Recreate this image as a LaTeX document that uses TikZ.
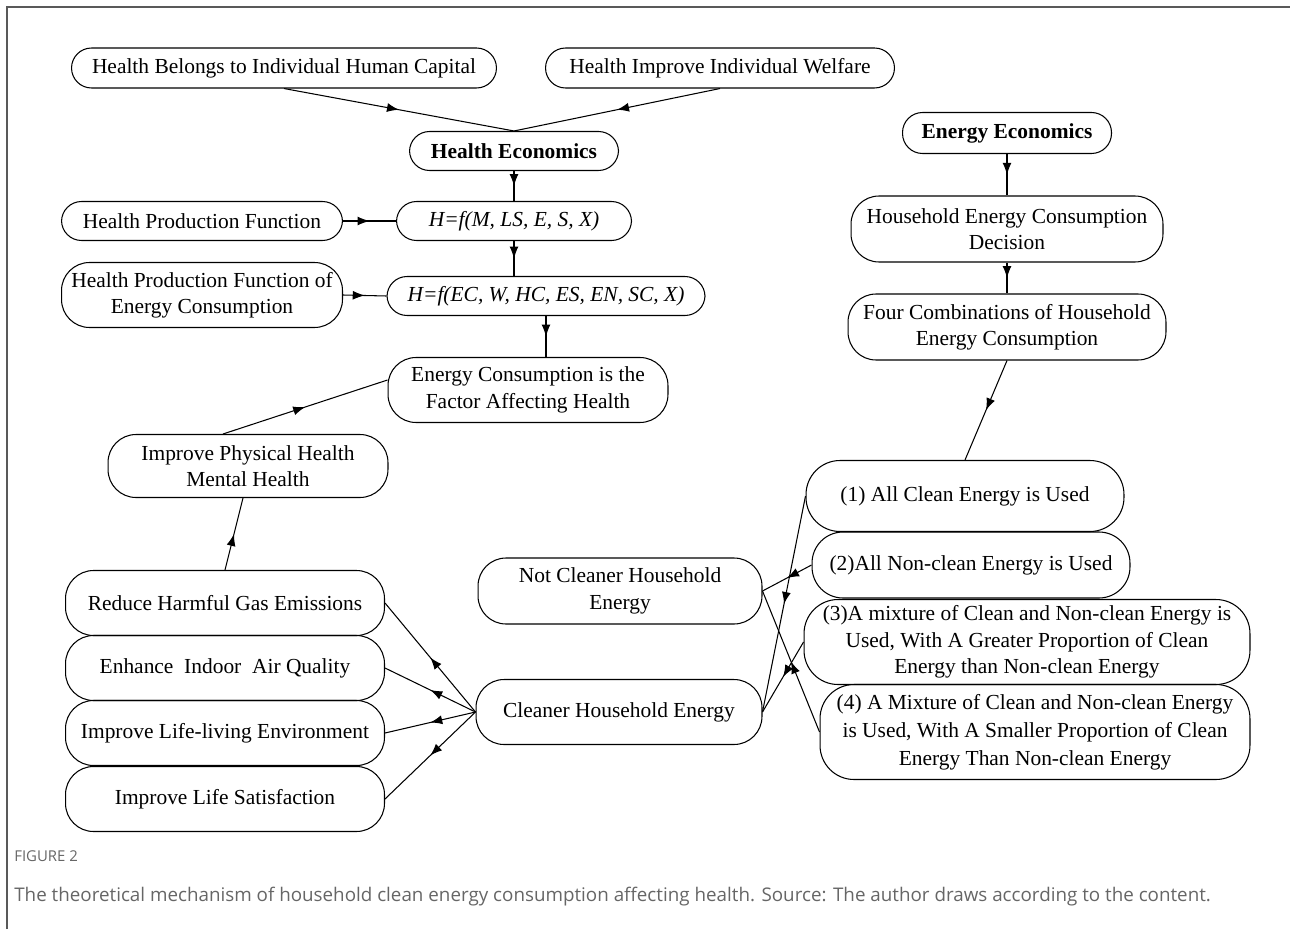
\documentclass[tikz,border=0pt]{standalone}
\usepackage{fontspec}
\setmainfont{Liberation Serif}
\newfontfamily\capfont{Open Sans}
\usepackage{tikz}
\usetikzlibrary{arrows.meta, calc, decorations.markings}

\tikzset{
  stadium/.style={draw, line width=0.6pt, rounded corners=0.4cm, align=center, inner sep=1pt,
    font=\fontsize{12.2}{15}\selectfont},
  tallstadium/.style={stadium, rounded corners=0.56cm},
  bigstadium/.style={stadium, rounded corners=0.68cm},
  midarrow/.style={line width=0.6pt, postaction={decorate},
    decoration={markings, mark=at position 0.5 with {\arrow{Latex[length=2.4mm,width=1.8mm]}}}},
}

\begin{document}
\begin{tikzpicture}[x=0.02cm, y=-0.02cm]
  \useasboundingbox (0,0) rectangle (1290,929);
  % frame
  \draw[black!65, line width=1.1pt] (7,929) -- (7,7) -- (1290,7);

  % health economics column
  \node[stadium, minimum width=8.5cm, minimum height=0.8cm] (HB) at (284,68) {Health Belongs to Individual Human Capital};
  \node[stadium, minimum width=6.98cm, minimum height=0.8cm] (HI) at (720,68) {Health Improve Individual Welfare};
  \node[stadium, minimum width=4.18cm, minimum height=0.78cm, font=\fontsize{12.2}{15}\selectfont\bfseries] (HE) at (514,151) {Health Economics};
  \node[stadium, minimum width=5.62cm, minimum height=0.78cm] (HPF) at (202,221) {Health Production Function};
  \node[stadium, minimum width=4.7cm, minimum height=0.78cm] (F1) at (514,221) {\textit{H=f(M, LS, E, S, X)}};
  \node[tallstadium, minimum width=5.62cm, minimum height=1.3cm] (HPFE) at (202,295) {Health Production Function of\\Energy Consumption};
  \node[stadium, minimum width=6.36cm, minimum height=0.78cm] (F2) at (546,296) {\textit{H=f(EC, W, HC, ES, EN, SC, X)}};
  \node[tallstadium, minimum width=5.6cm, minimum height=1.3cm] (ECF) at (528,390) {Energy Consumption is the\\Factor Affecting Health};
  \node[tallstadium, minimum width=5.6cm, minimum height=1.26cm] (IPH) at (248,466) {Improve Physical Health\\Mental Health};

  % effects of clean energy
  \node[tallstadium, minimum width=6.38cm, minimum height=1.3cm] (RHG) at (225,603) {Reduce Harmful Gas Emissions};
  \node[tallstadium, minimum width=6.38cm, minimum height=1.3cm] (EIA) at (225,668) {Enhance\ \ Indoor\ \ Air Quality};
  \node[tallstadium, minimum width=6.38cm, minimum height=1.3cm] (ILE) at (225,733) {Improve Life-living Environment};
  \node[tallstadium, minimum width=6.38cm, minimum height=1.3cm] (ILS) at (225,799) {Improve Life Satisfaction};
  \node[tallstadium, minimum width=5.68cm, minimum height=1.32cm] (NC) at (620,591) {Not Cleaner Household\\Energy};
  \node[tallstadium, minimum width=5.72cm, minimum height=1.3cm] (CHE) at (619,712) {Cleaner Household Energy};

  % energy economics column
  \node[stadium, minimum width=4.18cm, minimum height=0.82cm, font=\fontsize{12.2}{15}\selectfont\bfseries] (EE) at (1007,133) {Energy Economics};
  \node[tallstadium, minimum width=6.24cm, minimum height=1.32cm] (HEC) at (1007,229) {Household Energy Consumption\\Decision};
  \node[tallstadium, minimum width=6.36cm, minimum height=1.32cm] (FC) at (1007,327) {Four Combinations of Household\\Energy Consumption};

  % four combinations
  \node[bigstadium, minimum width=6.36cm, minimum height=1.42cm] (C1) at (965,496) {(1) All Clean Energy is Used};
  \node[bigstadium, minimum width=6.36cm, minimum height=1.32cm, rounded corners=0.62cm] (C2) at (971,565) {(2)All Non-clean Energy is Used};
  \node[bigstadium, minimum width=8.92cm, minimum height=1.7cm] (C3) at (1027,642) {(3)A mixture of Clean and Non-clean Energy is\\Used, With A Greater Proportion of Clean\\Energy than Non-clean Energy};
  \node[bigstadium, minimum width=8.6cm, minimum height=1.9cm, font=\fontsize{12.2}{16}\selectfont] (C4) at (1035,732) {(4) A Mixture of Clean and Non-clean Energy\\is Used, With A Smaller Proportion of Clean\\Energy Than Non-clean Energy};

  % connectors, health side
  \draw[midarrow] (HB.south) -- (HE.north);
  \draw[midarrow] (HI.south) -- (HE.north);
  \draw[midarrow] (HE.south) -- (F1.north);
  \draw[midarrow] (HPF.east) -- (F1.west);
  \draw[midarrow] (F1.south) -- (F1.south |- F2.north);
  \draw[midarrow] (HPFE.east) -- (F2.west);
  \draw[midarrow] (F2.south) -- (F2.south |- ECF.north);
  \draw[midarrow] ([xshift=-0.5cm]IPH.north) -- ([yshift=0.2cm]ECF.west);
  \draw[midarrow] (RHG.north) -- ([xshift=-0.1cm]IPH.south);
  \foreach \n in {RHG, EIA, ILE, ILS}
    \draw[midarrow] (CHE.west) -- (\n.east);

  % connectors, energy side
  \draw[midarrow] (EE.south) -- (HEC.north);
  \draw[midarrow] (HEC.south) -- (FC.north);
  \draw[midarrow] (FC.south) -- (C1.north);
  \draw[midarrow] (C1.west) -- (CHE.east);
  \draw[midarrow] (C2.west) -- (NC.east);
  \draw[midarrow] (C3.west) -- (CHE.east);
  \draw[midarrow] (C4.west) -- (NC.east);

  % caption
  \node[anchor=base west, inner sep=0pt, text=black!60, font=\capfont\fontsize{8.5}{10}\selectfont] (figno) at (14,861) {FIGURE 2};
  \node[anchor=base west, inner sep=0pt, text=black!60, font=\capfont\fontsize{10.7}{12}\selectfont] (figcap) at (14,901) {The theoretical mechanism of household clean energy consumption affecting health. Source: The author draws according to the content.};
\end{tikzpicture}
\end{document}
